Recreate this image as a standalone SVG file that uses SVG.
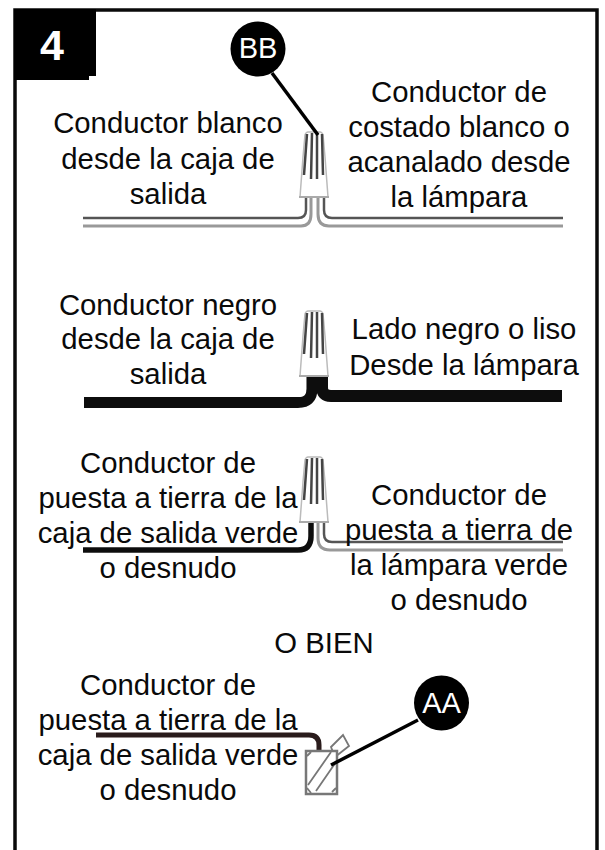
<svg xmlns="http://www.w3.org/2000/svg" width="605" height="850" viewBox="0 0 605 850">
<style>
text{font-family:"Liberation Sans",Arial,sans-serif;font-size:29.300px;fill:#0a0a0a;text-anchor:middle}
text.inv{fill:#fff;font-size:29px}
.w{fill:none;stroke:#555;stroke-width:2.500}
.w2{fill:none;stroke:#999;stroke-width:3}
.k{fill:none;stroke:#0a0a0a}
.lead{stroke:#000;stroke-width:3.500;fill:none}
.body{fill:#fff;stroke:#bbb;stroke-width:1.500}
.rib{stroke:#444;stroke-width:2.500;fill:none}
.screw{stroke:#777;stroke-width:1.800;fill:#fff}
.art{filter:url(#soft)}
</style>
<defs>
<filter id="soft" x="-10%" y="-10%" width="120%" height="120%"><feGaussianBlur stdDeviation="0.600"/></filter>
<g id="nut">
<path class="body" d="M-14 0L-11 -40L-9 -62Q-8 -65 -6 -65H6Q8 -65 9 -62L11 -40L14 0Z"/>
<path d="M-15 0H15" stroke="#aaa" stroke-width="2"/>
<path class="rib" d="M-7 -63L-10 -22M-2 -64L-3 -18M3 -64L3 -18M8 -63L9 -22"/>
</g>
</defs>
<path id="frame" fill="none" stroke="#0a0a0a" stroke-width="3.500" d="M15 850V10H597V850"/>
<g id="badge"><path fill="#000" d="M14 9H96V76H89V80H14Z"/><text class="inv" x="52" y="60" style="font-size:43px;font-weight:bold">4</text></g>
<g id="wires" class="art">
<path class="w" d="M83 218H298Q306 218 306 210V196M563 218H332Q324 218 324 210V196"/>
<path class="w2" d="M83 226H301Q311 226 311 214V196M563 226H329Q318 226 318 214V196"/>
<path class="k" stroke-width="11" d="M84 402.500H298Q312 402.500 312 389V375"/>
<path class="k" stroke-width="12" d="M562 396H331Q322 396 322 387V375"/>
<path class="k" stroke-width="5.500" d="M83 550H298Q311 550 311 536V521"/>
<path class="w" d="M563 542H332Q324 542 324 534V521"/>
<path class="w2" d="M563 550H330Q318 550 318 538V521"/>
<path fill="none" stroke="#2a1a1a" stroke-width="5" d="M96 735H309Q319 735 319 745V751"/>
</g>
<g id="nut-white" class="art"><use href="#nut" x="314" y="197"/></g>
<g id="nut-black" class="art"><use href="#nut" x="314" y="376"/></g>
<g id="nut-ground" class="art"><use href="#nut" x="314" y="522"/></g>
<g id="ground-screw" class="art">
<path class="screw" d="M331 747L343 735L349 746L335 757Z"/>
<rect x="306" y="751" width="31" height="43" fill="#fff" stroke="#777" stroke-width="2.500"/>
<path class="screw" d="M308 785L331 752M316 791L336 762M307 756L311 752M332 792L336 788M307 788L311 793" style="fill:none"/>
</g>
<g id="connectors">
<path class="lead" d="M272 73L318 135"/>
<path class="lead" d="M418 720L331 765"/>
</g>
<g id="callout-bb"><circle cx="258" cy="49" r="27.500"/><text class="inv" x="258" y="58">BB</text></g>
<g id="callout-aa"><circle cx="441.500" cy="703" r="27.500"/><text class="inv" x="441.500" y="713">AA</text></g>
<g id="labels">
<text x="168" y="133">Conductor blanco</text>
<text x="168" y="169">desde la caja de</text>
<text x="168" y="204">salida</text>
<text x="459" y="102">Conductor de</text>
<text x="459" y="137">costado blanco o</text>
<text x="459" y="172">acanalado desde</text>
<text x="459" y="207">la lámpara</text>
<text x="168" y="315">Conductor negro</text>
<text x="168" y="349">desde la caja de</text>
<text x="168" y="384">salida</text>
<text x="464" y="339">Lado negro o liso</text>
<text x="464" y="375">Desde la lámpara</text>
<text x="168" y="473">Conductor de</text>
<text x="168" y="508">puesta a tierra de la</text>
<text x="168" y="543">caja de salida verde</text>
<text x="168" y="578">o desnudo</text>
<text x="459" y="505">Conductor de</text>
<text x="459" y="540">puesta a tierra de</text>
<text x="459" y="575">la lámpara verde</text>
<text x="459" y="610">o desnudo</text>
<text x="324" y="653">O BIEN</text>
<text x="168" y="695">Conductor de</text>
<text x="168" y="730">puesta a tierra de la</text>
<text x="168" y="765">caja de salida verde</text>
<text x="168" y="800">o desnudo</text>
</g>
</svg>
